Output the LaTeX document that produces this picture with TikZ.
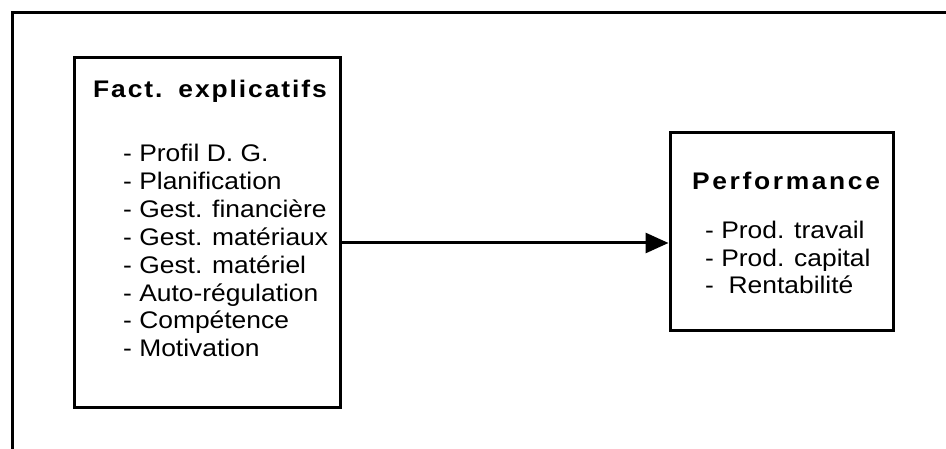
\documentclass[tikz,border=0pt]{standalone}
\usepackage{fontspec}
\setmainfont{Liberation Sans}[FakeStretch=1.1]
\newfontfamily\ttlA{Liberation Sans}[FakeStretch=1.1,LetterSpace=8]
\newfontfamily\ttlB{Liberation Sans}[FakeStretch=1.1,LetterSpace=11]
\usetikzlibrary{arrows.meta}
\begin{document}
\begin{tikzpicture}[x=1pt,y=-1pt,
  frameline/.style={line width=3pt},
  boxstyle/.style={draw,line width=3pt,inner sep=0pt},
  item/.style={anchor=base west,inner sep=0pt,font=\fontsize{24}{28}\selectfont},
  ttl/.style={anchor=base west,inner sep=0pt},
  conn/.style={line width=3pt,-{Triangle[length=23pt,width=20pt]}}]
\useasboundingbox (0,0) rectangle (946,449);
\fill[white] (0,0) rectangle (946,449);
% outer frame (top and left)
\coordinate (f1) at (12,449);
\coordinate (f2) at (12,13);
\coordinate (f3) at (946,13);
\draw[frameline] (f1) -- (f2) -- (f3);
% boxes
\node[boxstyle,minimum width=266pt,minimum height=349pt] (L) at (207,232.5) {};
\node[boxstyle,minimum width=223pt,minimum height=198pt] (R) at (781.5,232) {};
% titles
\node[ttl] (t1) at (93,97.6) {\ttlA\bfseries\fontsize{24}{28}\selectfont Fact.\hspace{16pt}explicatifs};
\node[ttl] (t2) at (692,189.6) {\ttlB\bfseries\fontsize{24}{28}\selectfont Performance};
% left items
\node[item] (a1) at (123,161.6) {- Profil D. G.};
\node[item] (a2) at (123,189.5) {- Planification};
\node[item] (a3) at (123,217.4) {- Gest. financière};
\node[item] (a4) at (123,245.3) {- Gest. matériaux};
\node[item] (a5) at (123,273.2) {- Gest. matériel};
\node[item] (a6) at (123,301.1) {- Auto-régulation};
\node[item] (a7) at (123,329.0) {- Compétence};
\node[item] (a8) at (123,356.9) {- Motivation};
% right items
\node[item] (b1) at (705,238.6) {- Prod. travail};
\node[item] (b2) at (705,266.6) {- Prod. capital};
\node[item] (b3) at (705,293.6) {-\ \ Rentabilité};
% connector
\coordinate (ay) at (0,243);
\draw[conn] (L.east |- ay) -- (R.west |- ay);
\end{tikzpicture}
\end{document}
